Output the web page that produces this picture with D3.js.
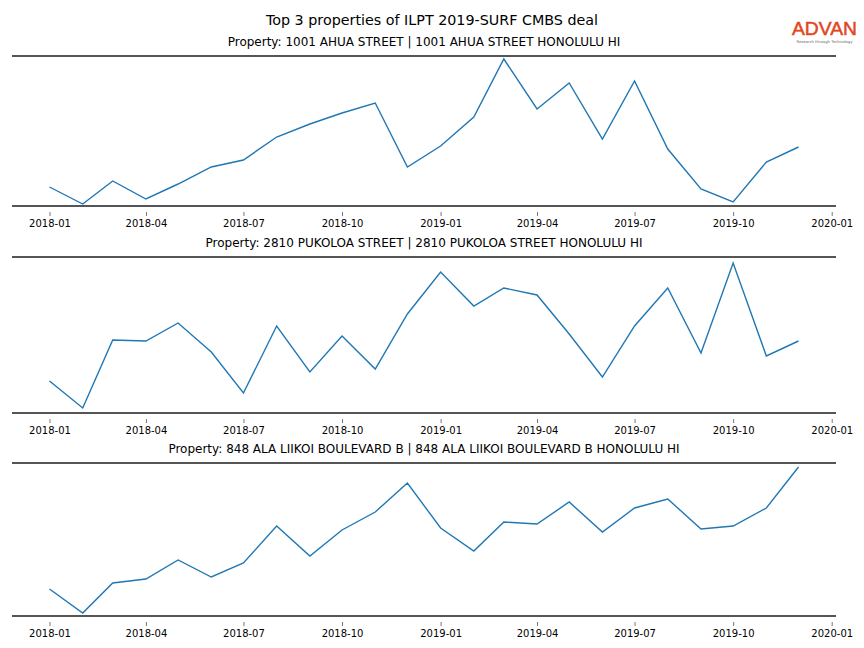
<!DOCTYPE html>
<html>
<head>
<meta charset="utf-8">
<script src="https://cdn.jsdelivr.net/npm/d3@7"></script>
<style>
  html, body { margin: 0; padding: 0; background: #fff; }
  svg { display: block; font-family: "DejaVu Sans", sans-serif; }
</style>
</head>
<body>
<svg id="chart" width="864" height="648"></svg>
<script>
// ---- data ----
const chartTitle = "Top 3 properties of ILPT 2019-SURF CMBS deal";
const months = ["2018-01","2018-02","2018-03","2018-04","2018-05","2018-06","2018-07","2018-08","2018-09","2018-10","2018-11","2018-12",
                "2019-01","2019-02","2019-03","2019-04","2019-05","2019-06","2019-07","2019-08","2019-09","2019-10","2019-11","2019-12"];
const tickLabels = ["2018-01","2018-04","2018-07","2018-10","2019-01","2019-04","2019-07","2019-10","2020-01"];
const propertyTitles = [
  "Property: 1001 AHUA STREET | 1001 AHUA STREET HONOLULU HI",
  "Property: 2810 PUKOLOA STREET | 2810 PUKOLOA STREET HONOLULU HI",
  "Property: 848 ALA LIIKOI BOULEVARD B | 848 ALA LIIKOI BOULEVARD B HONOLULU HI"
];
const series1 = [19, 2, 25, 7, 22, 39, 46, 69, 82, 93, 103, 39, 60, 89, 147, 97, 123, 67, 125, 57, 17, 4, 44, 59];
const series2 = [32, 5, 73, 72, 90, 61, 20, 87, 41, 77, 44, 99, 141, 107, 125, 118, 79, 36, 87, 125, 60, 150, 57, 72];
const series3 = [27, 3, 33, 37, 56, 39, 53, 90, 60, 86, 104, 133, 88, 65, 94, 92, 114, 84, 108, 117, 87, 90, 108, 149];
const yMax = [150, 156, 153];

// ---- layout ----
const svg = d3.select("#chart");
const parse = d3.timeParse("%Y-%m");
const left = 12, right = 836;
const panels = [
  { top: 56, bottom: 206, data: series1 },
  { top: 257, bottom: 413, data: series2 },
  { top: 463, bottom: 616, data: series3 }
];

const x = d3.scaleTime()
  .domain([d3.timeDay.offset(parse("2018-01"), -35), d3.timeDay.offset(parse("2019-12"), 35)])
  .range([left, right]);

svg.append("text")
  .attr("x", 432).attr("y", 24.5)
  .attr("text-anchor", "middle")
  .attr("font-size", 14.3)
  .attr("fill", "#000")
  .text(chartTitle);

// logo
svg.append("text")
  .attr("x", 824.5).attr("y", 35)
  .attr("text-anchor", "middle")
  .attr("font-family", "Liberation Sans, Arial, sans-serif")
  .attr("font-size", 19)
  .attr("fill", "#e2461c")
  .attr("stroke", "#e2461c")
  .attr("stroke-width", 0.5)
  .attr("textLength", 65)
  .attr("lengthAdjust", "spacingAndGlyphs")
  .text("ADVAN");
svg.append("text")
  .attr("x", 824.5).attr("y", 42.5)
  .attr("text-anchor", "middle")
  .attr("font-size", 3.8)
  .attr("fill", "#666")
  .text("Research through Technology");

panels.forEach((p, i) => {
  const y = d3.scaleLinear().domain([0, yMax[i]]).range([p.bottom, p.top]);
  const g = svg.append("g");

  g.append("text")
    .attr("x", 424).attr("y", p.top - 10)
    .attr("text-anchor", "middle")
    .attr("font-size", 12)
    .attr("fill", "#000")
    .text(propertyTitles[i]);

  // spines
  g.append("line").attr("x1", left).attr("x2", right).attr("y1", p.top).attr("y2", p.top)
    .attr("stroke", "#555").attr("stroke-width", 1.8);
  g.append("line").attr("x1", left).attr("x2", right).attr("y1", p.bottom).attr("y2", p.bottom)
    .attr("stroke", "#555").attr("stroke-width", 1.8);

  // x axis
  const ax = g.append("g").attr("transform", `translate(0,${p.bottom + 6})`)
    .call(d3.axisBottom(x)
      .tickValues(tickLabels.map(parse))
      .tickFormat(d3.timeFormat("%Y-%m"))
      .tickSize(4)
      .tickPadding(4));
  ax.select(".domain").remove();
  ax.selectAll(".tick line").attr("stroke", "#555").attr("stroke-width", 0.8);
  ax.selectAll(".tick text").attr("font-size", 10).attr("fill", "#000")
    .attr("font-family", "DejaVu Sans, sans-serif");

  // line
  const line = d3.line()
    .x((d, j) => x(parse(months[j])))
    .y(d => y(d));
  g.append("path")
    .datum(p.data)
    .attr("d", line)
    .attr("fill", "none")
    .attr("stroke", "#1f77b4")
    .attr("stroke-width", 1.4)
    .attr("stroke-linejoin", "miter");
});
</script>
</body>
</html>
